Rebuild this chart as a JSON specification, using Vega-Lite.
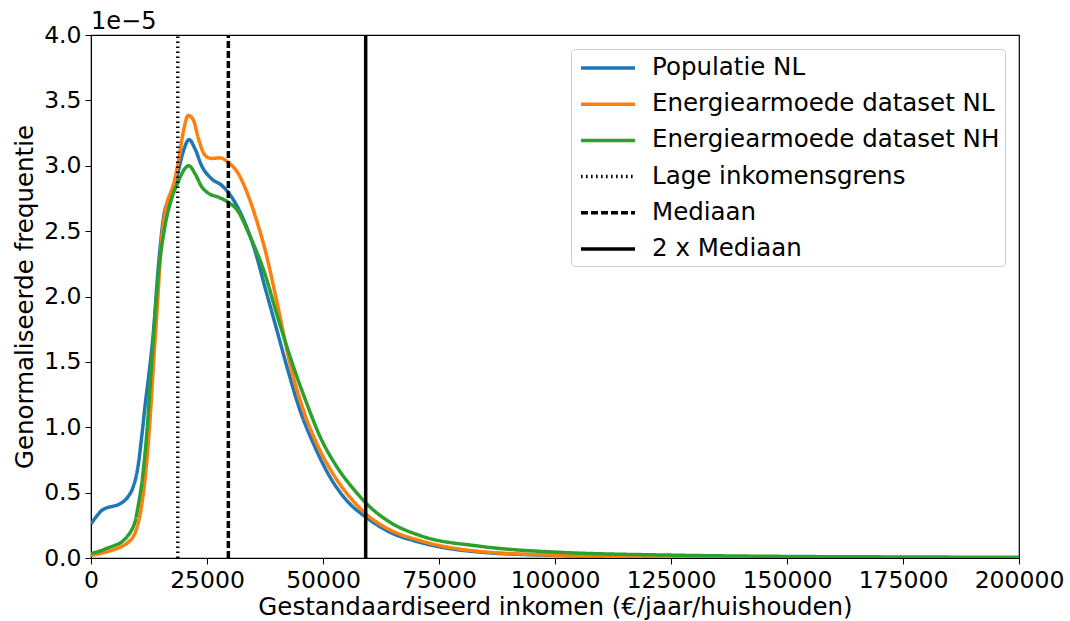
{
  "$schema": "https://vega.github.io/schema/vega-lite/v6.json",
  "width": 928,
  "height": 523,
  "autosize": {"type": "none"},
  "padding": {"left": 91, "top": 35, "right": 51, "bottom": 63},
  "background": "white",
  "title": {"text": "1e\u22125", "anchor": "start", "frame": "group", "fontSize": 24, "font": "DejaVu Sans", "fontWeight": "normal", "offset": -11, "color": "black"},
  "config": {
    "font": "DejaVu Sans",
    "view": {"stroke": "black", "strokeWidth": 1.2},
    "axis": {"grid": false, "domainColor": "black", "tickColor": "black", "labelColor": "black", "titleColor": "black", "labelFontSize": 23.5, "titleFontSize": 24.5, "titleFontWeight": "normal", "tickSize": 6, "labelPadding": 4, "labelFont": "DejaVu Sans", "titleFont": "DejaVu Sans"}
  },
  "data": {"values": [
    {"s": "Populatie NL", "x": 0, "y": 0.26},
    {"s": "Populatie NL", "x": 1000, "y": 0.31},
    {"s": "Populatie NL", "x": 2200, "y": 0.36},
    {"s": "Populatie NL", "x": 3500, "y": 0.385},
    {"s": "Populatie NL", "x": 4700, "y": 0.395},
    {"s": "Populatie NL", "x": 6000, "y": 0.41},
    {"s": "Populatie NL", "x": 7260, "y": 0.44},
    {"s": "Populatie NL", "x": 8200, "y": 0.48},
    {"s": "Populatie NL", "x": 9050, "y": 0.54},
    {"s": "Populatie NL", "x": 10130, "y": 0.70},
    {"s": "Populatie NL", "x": 11000, "y": 0.95},
    {"s": "Populatie NL", "x": 11700, "y": 1.18},
    {"s": "Populatie NL", "x": 12400, "y": 1.38},
    {"s": "Populatie NL", "x": 13430, "y": 1.72},
    {"s": "Populatie NL", "x": 14500, "y": 2.22},
    {"s": "Populatie NL", "x": 15580, "y": 2.59},
    {"s": "Populatie NL", "x": 17020, "y": 2.77},
    {"s": "Populatie NL", "x": 18600, "y": 2.93},
    {"s": "Populatie NL", "x": 19890, "y": 3.11},
    {"s": "Populatie NL", "x": 21120, "y": 3.20},
    {"s": "Populatie NL", "x": 22410, "y": 3.13},
    {"s": "Populatie NL", "x": 23850, "y": 3.00},
    {"s": "Populatie NL", "x": 26000, "y": 2.90},
    {"s": "Populatie NL", "x": 28160, "y": 2.85},
    {"s": "Populatie NL", "x": 30320, "y": 2.76},
    {"s": "Populatie NL", "x": 32470, "y": 2.62},
    {"s": "Populatie NL", "x": 35340, "y": 2.35},
    {"s": "Populatie NL", "x": 37500, "y": 2.07},
    {"s": "Populatie NL", "x": 40000, "y": 1.75},
    {"s": "Populatie NL", "x": 42170, "y": 1.47},
    {"s": "Populatie NL", "x": 45040, "y": 1.13},
    {"s": "Populatie NL", "x": 47910, "y": 0.877},
    {"s": "Populatie NL", "x": 51500, "y": 0.62},
    {"s": "Populatie NL", "x": 55100, "y": 0.44},
    {"s": "Populatie NL", "x": 59260, "y": 0.312},
    {"s": "Populatie NL", "x": 64430, "y": 0.197},
    {"s": "Populatie NL", "x": 70900, "y": 0.12},
    {"s": "Populatie NL", "x": 83830, "y": 0.045},
    {"s": "Populatie NL", "x": 100000, "y": 0.02},
    {"s": "Populatie NL", "x": 125000, "y": 0.008},
    {"s": "Populatie NL", "x": 150000, "y": 0.004},
    {"s": "Populatie NL", "x": 175000, "y": 0.002},
    {"s": "Populatie NL", "x": 200000, "y": 0.001},
    {"s": "Energiearmoede dataset NL", "x": 0, "y": 0.02},
    {"s": "Energiearmoede dataset NL", "x": 2000, "y": 0.035},
    {"s": "Energiearmoede dataset NL", "x": 3660, "y": 0.05},
    {"s": "Energiearmoede dataset NL", "x": 5000, "y": 0.065},
    {"s": "Energiearmoede dataset NL", "x": 6530, "y": 0.087},
    {"s": "Energiearmoede dataset NL", "x": 8000, "y": 0.12},
    {"s": "Energiearmoede dataset NL", "x": 9410, "y": 0.185},
    {"s": "Energiearmoede dataset NL", "x": 10200, "y": 0.27},
    {"s": "Energiearmoede dataset NL", "x": 10850, "y": 0.39},
    {"s": "Energiearmoede dataset NL", "x": 11930, "y": 0.70},
    {"s": "Energiearmoede dataset NL", "x": 12860, "y": 1.13},
    {"s": "Energiearmoede dataset NL", "x": 13500, "y": 1.5},
    {"s": "Energiearmoede dataset NL", "x": 14160, "y": 1.85},
    {"s": "Energiearmoede dataset NL", "x": 15230, "y": 2.44},
    {"s": "Energiearmoede dataset NL", "x": 16310, "y": 2.70},
    {"s": "Energiearmoede dataset NL", "x": 17740, "y": 2.85},
    {"s": "Energiearmoede dataset NL", "x": 18820, "y": 3.03},
    {"s": "Energiearmoede dataset NL", "x": 19890, "y": 3.26},
    {"s": "Energiearmoede dataset NL", "x": 20970, "y": 3.385},
    {"s": "Energiearmoede dataset NL", "x": 22050, "y": 3.35},
    {"s": "Energiearmoede dataset NL", "x": 23130, "y": 3.21},
    {"s": "Energiearmoede dataset NL", "x": 24570, "y": 3.08},
    {"s": "Energiearmoede dataset NL", "x": 26000, "y": 3.056},
    {"s": "Energiearmoede dataset NL", "x": 27800, "y": 3.06},
    {"s": "Energiearmoede dataset NL", "x": 29590, "y": 3.025},
    {"s": "Energiearmoede dataset NL", "x": 31740, "y": 2.94},
    {"s": "Energiearmoede dataset NL", "x": 33900, "y": 2.77},
    {"s": "Energiearmoede dataset NL", "x": 36060, "y": 2.54},
    {"s": "Energiearmoede dataset NL", "x": 37500, "y": 2.36},
    {"s": "Energiearmoede dataset NL", "x": 40000, "y": 1.97},
    {"s": "Energiearmoede dataset NL", "x": 43000, "y": 1.47},
    {"s": "Energiearmoede dataset NL", "x": 45750, "y": 1.133},
    {"s": "Energiearmoede dataset NL", "x": 48630, "y": 0.877},
    {"s": "Energiearmoede dataset NL", "x": 52220, "y": 0.64},
    {"s": "Energiearmoede dataset NL", "x": 55800, "y": 0.465},
    {"s": "Energiearmoede dataset NL", "x": 59260, "y": 0.337},
    {"s": "Energiearmoede dataset NL", "x": 64430, "y": 0.215},
    {"s": "Energiearmoede dataset NL", "x": 70900, "y": 0.133},
    {"s": "Energiearmoede dataset NL", "x": 83830, "y": 0.05},
    {"s": "Energiearmoede dataset NL", "x": 100000, "y": 0.022},
    {"s": "Energiearmoede dataset NL", "x": 125000, "y": 0.009},
    {"s": "Energiearmoede dataset NL", "x": 150000, "y": 0.004},
    {"s": "Energiearmoede dataset NL", "x": 175000, "y": 0.002},
    {"s": "Energiearmoede dataset NL", "x": 200000, "y": 0.001},
    {"s": "Energiearmoede dataset NH", "x": 0, "y": 0.035},
    {"s": "Energiearmoede dataset NH", "x": 2000, "y": 0.055},
    {"s": "Energiearmoede dataset NH", "x": 3660, "y": 0.077},
    {"s": "Energiearmoede dataset NH", "x": 5000, "y": 0.095},
    {"s": "Energiearmoede dataset NH", "x": 6530, "y": 0.12},
    {"s": "Energiearmoede dataset NH", "x": 7700, "y": 0.16},
    {"s": "Energiearmoede dataset NH", "x": 8690, "y": 0.21},
    {"s": "Energiearmoede dataset NH", "x": 9500, "y": 0.28},
    {"s": "Energiearmoede dataset NH", "x": 10130, "y": 0.39},
    {"s": "Energiearmoede dataset NH", "x": 11200, "y": 0.646},
    {"s": "Energiearmoede dataset NH", "x": 12140, "y": 1.005},
    {"s": "Energiearmoede dataset NH", "x": 12700, "y": 1.3},
    {"s": "Energiearmoede dataset NH", "x": 13430, "y": 1.67},
    {"s": "Energiearmoede dataset NH", "x": 14500, "y": 2.16},
    {"s": "Energiearmoede dataset NH", "x": 15950, "y": 2.54},
    {"s": "Energiearmoede dataset NH", "x": 17390, "y": 2.75},
    {"s": "Energiearmoede dataset NH", "x": 18820, "y": 2.88},
    {"s": "Energiearmoede dataset NH", "x": 20260, "y": 2.98},
    {"s": "Energiearmoede dataset NH", "x": 21120, "y": 3.00},
    {"s": "Energiearmoede dataset NH", "x": 22410, "y": 2.94},
    {"s": "Energiearmoede dataset NH", "x": 23850, "y": 2.84},
    {"s": "Energiearmoede dataset NH", "x": 25280, "y": 2.79},
    {"s": "Energiearmoede dataset NH", "x": 27430, "y": 2.76},
    {"s": "Energiearmoede dataset NH", "x": 29590, "y": 2.72},
    {"s": "Energiearmoede dataset NH", "x": 31740, "y": 2.65},
    {"s": "Energiearmoede dataset NH", "x": 33900, "y": 2.49},
    {"s": "Energiearmoede dataset NH", "x": 36060, "y": 2.31},
    {"s": "Energiearmoede dataset NH", "x": 37500, "y": 2.17},
    {"s": "Energiearmoede dataset NH", "x": 40000, "y": 1.87},
    {"s": "Energiearmoede dataset NH", "x": 43600, "y": 1.466},
    {"s": "Energiearmoede dataset NH", "x": 46480, "y": 1.184},
    {"s": "Energiearmoede dataset NH", "x": 49350, "y": 0.93},
    {"s": "Energiearmoede dataset NH", "x": 52940, "y": 0.70},
    {"s": "Energiearmoede dataset NH", "x": 56520, "y": 0.53},
    {"s": "Energiearmoede dataset NH", "x": 59260, "y": 0.42},
    {"s": "Energiearmoede dataset NH", "x": 64430, "y": 0.274},
    {"s": "Energiearmoede dataset NH", "x": 70900, "y": 0.172},
    {"s": "Energiearmoede dataset NH", "x": 83830, "y": 0.09},
    {"s": "Energiearmoede dataset NH", "x": 100000, "y": 0.045},
    {"s": "Energiearmoede dataset NH", "x": 125000, "y": 0.022},
    {"s": "Energiearmoede dataset NH", "x": 150000, "y": 0.012},
    {"s": "Energiearmoede dataset NH", "x": 175000, "y": 0.008},
    {"s": "Energiearmoede dataset NH", "x": 200000, "y": 0.005},
    {"s": "Lage inkomensgrens", "x": 18700, "y": 0},
    {"s": "Lage inkomensgrens", "x": 18700, "y": 4},
    {"s": "Mediaan", "x": 29600, "y": 0},
    {"s": "Mediaan", "x": 29600, "y": 4},
    {"s": "2 x Mediaan", "x": 59200, "y": 0},
    {"s": "2 x Mediaan", "x": 59200, "y": 4}
  ]},
  "mark": {"type": "line", "interpolate": "monotone", "clip": true},
  "encoding": {
    "x": {"field": "x", "type": "quantitative", "scale": {"domain": [0, 200000], "nice": false, "zero": false},
      "axis": {"values": [0, 25000, 50000, 75000, 100000, 125000, 150000, 175000, 200000], "format": "d", "title": "Gestandaardiseerd inkomen (\u20ac/jaar/huishouden)", "titlePadding": 4, "labelFlush": false}},
    "y": {"field": "y", "type": "quantitative", "scale": {"domain": [0, 4], "nice": false},
      "axis": {"values": [0, 0.5, 1, 1.5, 2, 2.5, 3, 3.5, 4], "format": ".1f", "title": "Genormaliseerde frequentie", "titlePadding": 6}},
    "color": {"field": "s", "type": "nominal",
      "scale": {"domain": ["Populatie NL", "Energiearmoede dataset NL", "Energiearmoede dataset NH", "Lage inkomensgrens", "Mediaan", "2 x Mediaan"], "range": ["#1f77b4", "#ff7f0e", "#2ca02c", "black", "black", "black"]},
      "legend": {"title": null, "orient": "top-right", "offset": 14, "labelFontSize": 24.5, "labelFont": "DejaVu Sans", "labelColor": "black", "labelLimit": 600, "symbolType": "M-2.25,0H2.25", "symbolSize": 576, "symbolOffset": 18, "rowPadding": 10.2, "labelOffset": 30, "padding": 5, "strokeColor": "#cccccc", "fillColor": "white", "cornerRadius": 4}},
    "strokeDash": {"field": "s", "type": "nominal",
      "scale": {"domain": ["Populatie NL", "Energiearmoede dataset NL", "Energiearmoede dataset NH", "Lage inkomensgrens", "Mediaan", "2 x Mediaan"], "range": [[1, 0], [1, 0], [1, 0], [1.6, 3.4], [7, 3], [1, 0]]}},
    "strokeWidth": {"field": "s", "type": "nominal",
      "scale": {"domain": ["Populatie NL", "Energiearmoede dataset NL", "Energiearmoede dataset NH", "Lage inkomensgrens", "Mediaan", "2 x Mediaan"], "range": [3.5, 3.5, 3.5, 1.6, 1.6, 1.4]}}
  }
}
